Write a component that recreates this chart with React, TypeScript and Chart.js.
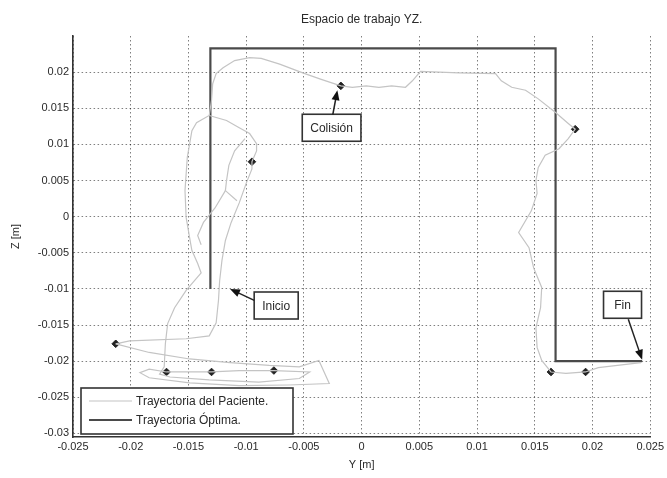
import React, { useEffect, useRef } from "react";
import { Chart, registerables } from "chart.js";

Chart.register(...registerables);

// ---------- data ----------
const titleText = "Espacio de trabajo YZ.";
const xAxisLabel = "Y [m]";
const yAxisLabel = "Z [m]";
const legendLabels = ["Trayectoria del Paciente.", "Trayectoria Óptima."];

const xTicks = [-0.025, -0.02, -0.015, -0.01, -0.005, 0, 0.005, 0.01, 0.015, 0.02, 0.025];
const yTicks = [-0.03, -0.025, -0.02, -0.015, -0.01, -0.005, 0, 0.005, 0.01, 0.015, 0.02];

// optimal trajectory [Y, Z]
const optimalPath: number[][] = [
  [-0.0131, -0.01], [-0.0131, 0.0233], [0.0168, 0.0233], [0.0168, -0.02], [0.0243, -0.02],
];

// patient trajectory, main run [Y, Z]
const patientMain: number[][] = [
  [-0.0213, -0.0176], [-0.0184, -0.0188], [-0.0149, -0.0197], [-0.0114, -0.0202], [-0.008, -0.0206],
  [-0.0054, -0.0208], [-0.0037, -0.0199], [-0.0028, -0.0231], [-0.0063, -0.0233], [-0.0106, -0.0234],
  [-0.0149, -0.023], [-0.0184, -0.0223], [-0.0192, -0.0216], [-0.0184, -0.0211], [-0.0169, -0.0215],
  [-0.0149, -0.0215], [-0.013, -0.0215], [-0.0106, -0.0213], [-0.0076, -0.0213], [-0.0045, -0.0215],
  [-0.0054, -0.0224], [-0.0089, -0.0229], [-0.0132, -0.0226], [-0.0166, -0.0222], [-0.0175, -0.0218],
  [-0.0171, -0.0208], [-0.017, -0.0176], [-0.0168, -0.0148], [-0.0162, -0.0126], [-0.0152, -0.0102],
  [-0.0139, -0.0078], [-0.0142, -0.0065], [-0.0147, -0.0047], [-0.0149, -0.0029], [-0.0152, -0.0001],
  [-0.0153, 0.0036], [-0.0151, 0.0082], [-0.0147, 0.0119], [-0.0143, 0.013], [-0.0132, 0.014],
  [-0.013, 0.0161], [-0.0129, 0.0184], [-0.0126, 0.0198], [-0.012, 0.0206], [-0.011, 0.0216],
  [-0.0097, 0.022], [-0.0087, 0.0219], [-0.0071, 0.0211], [-0.0051, 0.0199], [-0.0035, 0.019],
  [-0.0018, 0.0181], [-0.0008, 0.0179], [0.0004, 0.0181], [0.0015, 0.0179], [0.0026, 0.0181],
  [0.0038, 0.0179], [0.0044, 0.0188], [0.0051, 0.0201], [0.0084, 0.0199], [0.0116, 0.0198],
  [0.0121, 0.0188], [0.013, 0.0179], [0.0142, 0.0175], [0.0153, 0.0163], [0.0168, 0.0144],
  [0.0179, 0.0129], [0.0185, 0.0121], [0.0179, 0.0108], [0.0171, 0.0094], [0.0159, 0.0085],
  [0.0153, 0.0068], [0.0151, 0.005], [0.0152, 0.0032], [0.0147, 0.0008], [0.0136, -0.0022],
  [0.0145, -0.0043], [0.0149, -0.0071], [0.0156, -0.0098], [0.0155, -0.0126], [0.0151, -0.0154],
  [0.0152, -0.0181], [0.0156, -0.0199], [0.0164, -0.0215], [0.0177, -0.0217], [0.0194, -0.0215],
  [0.0205, -0.0209], [0.0242, -0.0202],
];

// patient trajectory, inner return from top-left to the left pause point
const patientInner: number[][] = [
  [-0.0132, 0.014], [-0.0117, 0.0133], [-0.0106, 0.0123], [-0.0097, 0.0115], [-0.0091, 0.0101],
  [-0.0091, 0.0091], [-0.0095, 0.0076], [-0.0095, 0.0066], [-0.01, 0.0046], [-0.0106, 0.0019],
  [-0.0113, -0.0008], [-0.0118, -0.0033], [-0.0121, -0.0061], [-0.0123, -0.0089], [-0.0124, -0.0116],
  [-0.0126, -0.0147], [-0.0132, -0.0165], [-0.0152, -0.0169], [-0.0201, -0.0172], [-0.0213, -0.0176],
];

const patientHookA: number[][] = [
  [-0.0101, 0.0108], [-0.011, 0.0091], [-0.0115, 0.0071], [-0.0117, 0.005], [-0.0118, 0.0036], [-0.0108, 0.0022],
];
const patientHookB: number[][] = [
  [-0.0118, 0.0036], [-0.0127, 0.0012], [-0.0137, -0.0008], [-0.0142, -0.0026], [-0.0139, -0.0039],
];

// pause / event markers [Y, Z]
const eventMarkers: number[][] = [
  [-0.0213, -0.0176], [-0.0169, -0.0215], [-0.013, -0.0215], [-0.0076, -0.0213],
  [-0.0095, 0.0076], [-0.0018, 0.0181], [0.0185, 0.0121], [0.0164, -0.0215], [0.0194, -0.0215],
];

// text annotations: label, box centre, arrow tail, arrow tip (data coords)
const annotationLabels = ["Colisión", "Inicio", "Fin"];
const annotationBoxes: number[][] = [[-0.0026, 0.0123], [-0.0074, -0.0123], [0.0226, -0.0122]];
const annotationTails: number[][] = [[-0.0025, 0.0141], [-0.0093, -0.0116], [0.0231, -0.0142]];
const annotationTips: number[][] = [[-0.0021, 0.0175], [-0.0114, -0.01], [0.0243, -0.0198]];

// ---------- styles ----------
const FONT = "'Liberation Sans', Arial, sans-serif";
const PATIENT_COLOR = "#c4c4c4";
const OPTIMAL_COLOR = "#4a4a4a";
const TEXT_COLOR = "#2a2a2a";

const toXY = (arr: number[][]) => arr.map(([x, y]) => ({ x, y }));
const fmt = (v: number) => String(Number(v.toFixed(3)));

const overlayPlugin = {
  id: "overlay",
  afterDraw(chart: any) {
    const { ctx, chartArea: ca, scales } = chart;
    const xs = scales.x;
    const ys = scales.y;
    ctx.save();
    ctx.fillStyle = TEXT_COLOR;
    ctx.textAlign = "center";
    ctx.textBaseline = "middle";

    // title
    ctx.font = `12px ${FONT}`;
    ctx.fillText(titleText, (ca.left + ca.right) / 2, 20);
    // axis titles
    ctx.font = `11px ${FONT}`;
    ctx.fillText(xAxisLabel, (ca.left + ca.right) / 2, 465);
    ctx.save();
    ctx.translate(16, (ca.top + ca.bottom) / 2);
    ctx.rotate(-Math.PI / 2);
    ctx.fillText(yAxisLabel, 0, 0);
    ctx.restore();

    // annotations
    ctx.font = `12px ${FONT}`;
    annotationLabels.forEach((label, i) => {
      const cx = xs.getPixelForValue(annotationBoxes[i][0]);
      const cy = ys.getPixelForValue(annotationBoxes[i][1]);
      const tw = ctx.measureText(label).width;
      const w = Math.max(tw + 16, 38);
      const h = 27;
      ctx.fillStyle = "#fff";
      ctx.fillRect(cx - w / 2, cy - h / 2, w, h);
      ctx.lineWidth = 1.6;
      ctx.strokeStyle = "#333";
      ctx.strokeRect(cx - w / 2, cy - h / 2, w, h);
      ctx.fillStyle = TEXT_COLOR;
      ctx.fillText(label, cx, cy + 1);

      const x1 = xs.getPixelForValue(annotationTails[i][0]);
      const y1 = ys.getPixelForValue(annotationTails[i][1]);
      const x2 = xs.getPixelForValue(annotationTips[i][0]);
      const y2 = ys.getPixelForValue(annotationTips[i][1]);
      const ang = Math.atan2(y2 - y1, x2 - x1);
      const hl = 10, hw = 4;
      ctx.strokeStyle = "#222";
      ctx.lineWidth = 1.5;
      ctx.beginPath();
      ctx.moveTo(x1, y1);
      ctx.lineTo(x2 - Math.cos(ang) * hl * 0.8, y2 - Math.sin(ang) * hl * 0.8);
      ctx.stroke();
      ctx.fillStyle = "#111";
      ctx.beginPath();
      ctx.moveTo(x2, y2);
      ctx.lineTo(x2 - Math.cos(ang) * hl - Math.sin(ang) * hw, y2 - Math.sin(ang) * hl + Math.cos(ang) * hw);
      ctx.lineTo(x2 - Math.cos(ang) * hl + Math.sin(ang) * hw, y2 - Math.sin(ang) * hl - Math.cos(ang) * hw);
      ctx.closePath();
      ctx.fill();
    });

    // legend box
    const lx = ca.left + 8;
    const lw = 212;
    const lh = 46;
    const ly = ca.bottom - lh - 3;
    ctx.fillStyle = "#fff";
    ctx.fillRect(lx, ly, lw, lh);
    ctx.lineWidth = 1.6;
    ctx.strokeStyle = "#333";
    ctx.strokeRect(lx, ly, lw, lh);
    const rows = [ly + 13, ly + 32];
    const colors = [PATIENT_COLOR, OPTIMAL_COLOR];
    const widths = [1.2, 2];
    ctx.font = `12px ${FONT}`;
    ctx.textAlign = "left";
    legendLabels.forEach((t, i) => {
      ctx.strokeStyle = colors[i];
      ctx.lineWidth = widths[i];
      ctx.beginPath();
      ctx.moveTo(lx + 8, rows[i]);
      ctx.lineTo(lx + 51, rows[i]);
      ctx.stroke();
      ctx.fillStyle = TEXT_COLOR;
      ctx.fillText(t, lx + 55, rows[i] + 1);
    });
    ctx.restore();
  },
};

export default function App() {
  const ref = useRef<HTMLCanvasElement>(null);
  useEffect(() => {
    document.body.style.margin = "0";
    const patientStyle = {
      borderColor: PATIENT_COLOR,
      borderWidth: 1.2,
      pointRadius: 0,
      showLine: true,
      tension: 0,
      fill: false,
    };
    const chart = new Chart(ref.current as HTMLCanvasElement, {
      type: "scatter",
      data: {
        datasets: [
          { label: legendLabels[0], data: toXY(patientMain), ...patientStyle },
          { label: "p2", data: toXY(patientInner), ...patientStyle },
          { label: "p3", data: toXY(patientHookA), ...patientStyle },
          { label: "p4", data: toXY(patientHookB), ...patientStyle },
          {
            label: legendLabels[1],
            data: toXY(optimalPath),
            borderColor: OPTIMAL_COLOR,
            borderWidth: 2.2,
            pointRadius: 0,
            showLine: true,
            fill: false,
          },
          {
            label: "markers",
            data: toXY(eventMarkers),
            showLine: false,
            pointStyle: "rectRot",
            pointRadius: 3.8,
            backgroundColor: "#222",
            borderColor: "#222",
            borderWidth: 1,
          },
        ] as any,
      },
      options: {
        animation: false,
        responsive: true,
        maintainAspectRatio: false,
        layout: { padding: { top: 36, right: 15, left: 0, bottom: 0 } },
        plugins: {
          legend: { display: false },
          title: { display: false },
          tooltip: { enabled: false },
        },
        scales: {
          x: {
            type: "linear",
            min: -0.025,
            max: 0.025,
            afterBuildTicks: (s: any) => {
              s.ticks = xTicks.map((v) => ({ value: v }));
            },
            afterFit: (s: any) => {
              s.height = 41;
            },
            ticks: {
              callback: (v: any) => fmt(Number(v)),
              font: { family: FONT, size: 11 },
              color: TEXT_COLOR,
              padding: 3,
              maxRotation: 0,
              autoSkip: false,
            },
            grid: { color: "rgba(0,0,0,0.5)", lineWidth: 1, drawTicks: false },
            border: { display: true, color: "#333", width: 1.6, dash: [1.5, 2.5] },
          },
          y: {
            type: "linear",
            min: -0.0305,
            max: 0.025,
            afterBuildTicks: (s: any) => {
              s.ticks = yTicks.map((v) => ({ value: v }));
            },
            afterFit: (s: any) => {
              s.width = 73;
            },
            ticks: {
              callback: (v: any) => fmt(Number(v)),
              font: { family: FONT, size: 11 },
              color: TEXT_COLOR,
              padding: 4,
              autoSkip: false,
            },
            grid: { color: "rgba(0,0,0,0.5)", lineWidth: 1, drawTicks: false },
            border: { display: true, color: "#333", width: 1.6, dash: [1.5, 2.5] },
          },
        },
      } as any,
      plugins: [overlayPlugin],
    });
    return () => chart.destroy();
  }, []);
  return (
    <div style={{ position: "relative", width: 667, height: 478, background: "#fff" }}>
      <canvas ref={ref} />
    </div>
  );
}
